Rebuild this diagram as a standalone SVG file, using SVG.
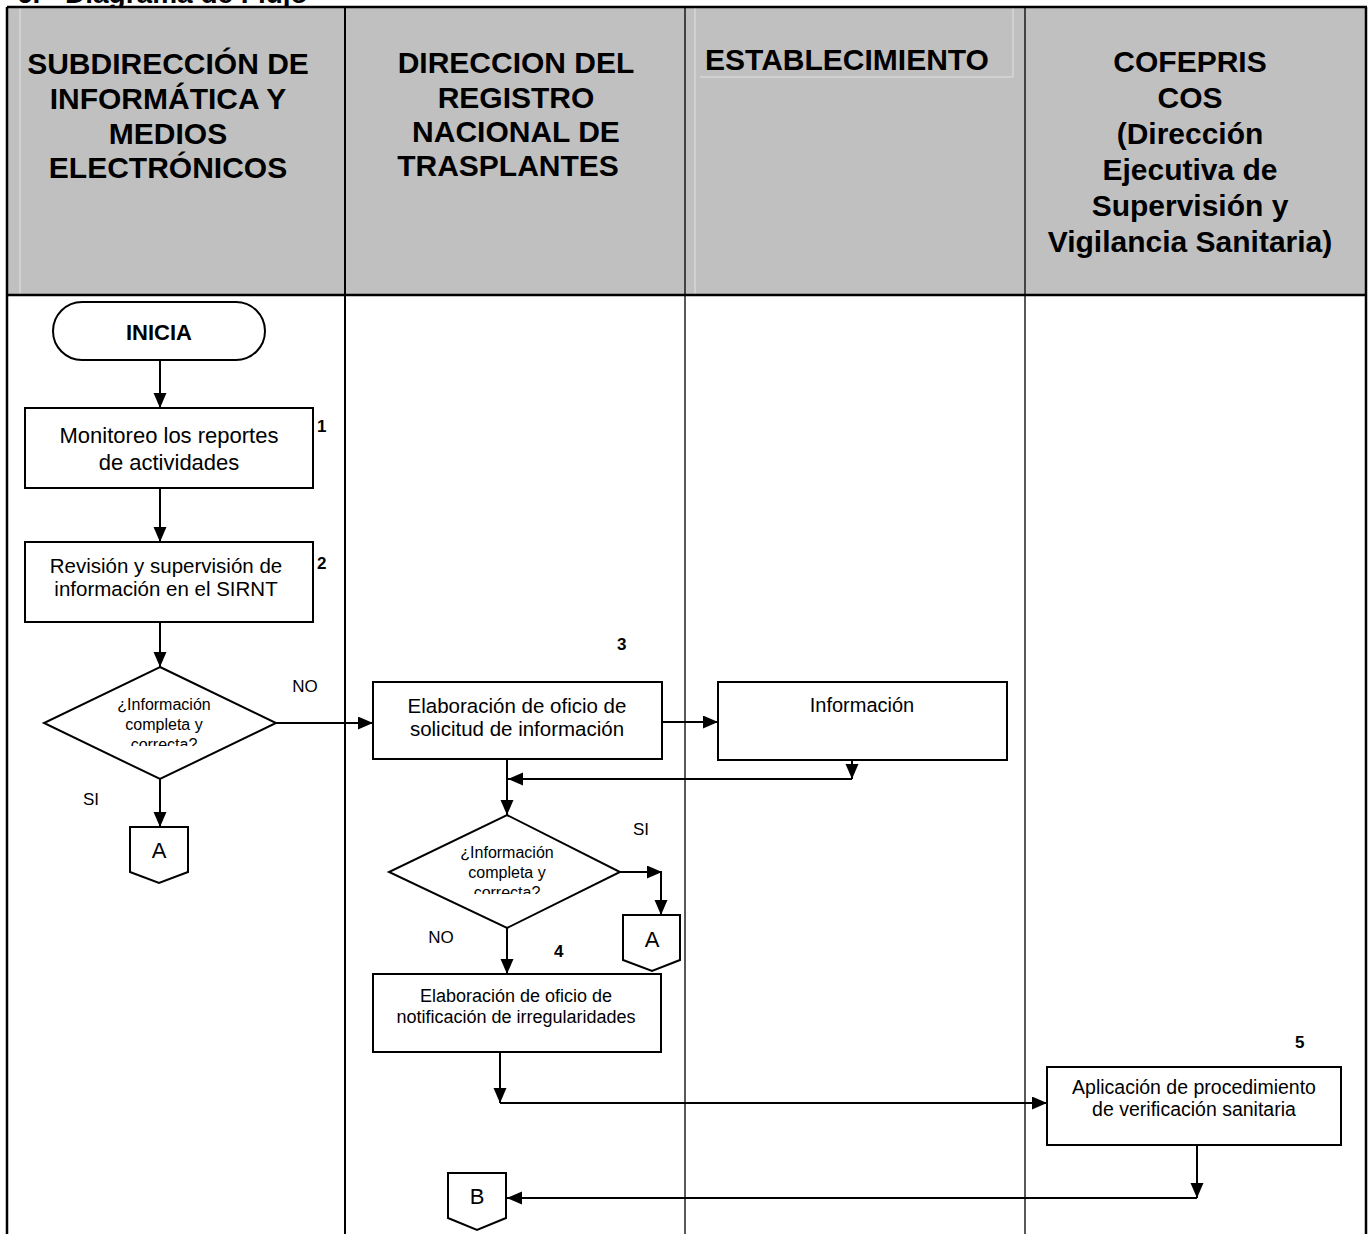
<svg xmlns="http://www.w3.org/2000/svg" width="1371" height="1234" viewBox="0 0 1371 1234">
  <defs>
    <style>
      text { font-family: "Liberation Sans", Arial, sans-serif; fill: #000; }
      .hdr { font-weight: bold; font-size: 30px; text-anchor: middle; }
      .title { font-weight: bold; font-size: 28px; }
      .box { fill: #fff; stroke: #000; stroke-width: 2; }
      .lbl { text-anchor: middle; }
      .num { font-weight: bold; font-size: 17px; }
      .yn { font-size: 17px; text-anchor: middle; }
      .conn { fill: none; stroke: #000; stroke-width: 2; }
      .grid { stroke: #000; fill: none; }
      .faint { stroke: #e2e2e2; stroke-width: 1; fill: none; }
    </style>
    <marker id="arrow" markerUnits="userSpaceOnUse" markerWidth="16" markerHeight="14" refX="15" refY="6.5" orient="auto">
      <path d="M0,0 L15,6.5 L0,13 Z" fill="#000"/>
    </marker>
    <clipPath id="clipD1"><rect x="60" y="680" width="210" height="66"/></clipPath>
    <clipPath id="clipD2"><rect x="405" y="828" width="210" height="66"/></clipPath>
  </defs>

  <!-- page title (runs off the top edge) -->
  <text class="title" y="3"><tspan x="17">6.</tspan><tspan x="65">Diagrama de Flujo</tspan></text>

  <!-- swimlane table -->
  <g id="lanes">
    <rect x="7" y="7" width="1360" height="288" fill="#c0c0c0"/>
    <path class="faint" d="M20,8 V294 M695,8 V294 M700,77 H1013 V8"/>
    <path class="grid" stroke-width="2.5" d="M7,7 H1367 M7,295 H1367 M7,7 V1234 M1366,7 V1234"/>
    <path class="grid" stroke-width="2" d="M345,7 V1234"/>
    <path class="grid" stroke-width="1.3" d="M685,7 V1234 M1025,7 V1234"/>

    <text class="hdr" x="168"><tspan x="168" y="74">SUBDIRECCIÓN DE</tspan><tspan x="168" y="109">INFORMÁTICA Y</tspan><tspan x="168" y="144">MEDIOS</tspan><tspan x="168" y="178">ELECTRÓNICOS</tspan></text>
    <text class="hdr" x="516"><tspan x="516" y="73">DIRECCION DEL</tspan><tspan x="516" y="108">REGISTRO</tspan><tspan x="516" y="142">NACIONAL DE</tspan><tspan x="508" y="176">TRASPLANTES</tspan></text>
    <text class="hdr" x="847" y="70">ESTABLECIMIENTO</text>
    <text class="hdr" x="1190"><tspan x="1190" y="72">COFEPRIS</tspan><tspan x="1190" y="108">COS</tspan><tspan x="1190" y="144">(Dirección</tspan><tspan x="1190" y="180">Ejecutiva de</tspan><tspan x="1190" y="216">Supervisión y</tspan><tspan x="1190" y="252">Vigilancia Sanitaria)</tspan></text>
  </g>

  <!-- connectors -->
  <g id="connectors" class="conn">
    <path d="M160,360 V408" marker-end="url(#arrow)"/>
    <path d="M160,488 V542" marker-end="url(#arrow)"/>
    <path d="M160,622 V667" marker-end="url(#arrow)"/>
    <path d="M276,723 H373" marker-end="url(#arrow)"/>
    <path d="M160,779 V827" marker-end="url(#arrow)"/>
    <path d="M662,722 H718" marker-end="url(#arrow)"/>
    <path d="M852,760 V779" marker-end="url(#arrow)"/>
    <path d="M852,779 H508" marker-end="url(#arrow)"/>
    <path d="M507,759 V815" marker-end="url(#arrow)"/>
    <path d="M620,872 H662" marker-end="url(#arrow)"/>
    <path d="M661,872 V915" marker-end="url(#arrow)"/>
    <path d="M507,928 V974" marker-end="url(#arrow)"/>
    <path d="M500,1052 V1103" marker-end="url(#arrow)"/>
    <path d="M500,1103 H1047" marker-end="url(#arrow)"/>
    <path d="M1197,1145 V1198" marker-end="url(#arrow)"/>
    <path d="M1197,1198 H507" marker-end="url(#arrow)"/>
  </g>

  <!-- start -->
  <g id="inicia">
    <rect class="box" x="53" y="302" width="212" height="58" rx="29"/>
    <text class="lbl" x="159" y="340" font-size="22" font-weight="bold">INICIA</text>
  </g>

  <!-- step 1 -->
  <g id="paso1">
    <rect class="box" x="25" y="408" width="288" height="80"/>
    <text class="lbl" font-size="22"><tspan x="169" y="443">Monitoreo los reportes</tspan><tspan x="169" y="470">de actividades</tspan></text>
    <text class="num" x="317" y="432">1</text>
  </g>

  <!-- step 2 -->
  <g id="paso2">
    <rect class="box" x="25" y="542" width="288" height="80"/>
    <text class="lbl" font-size="20.5"><tspan x="166" y="573">Revisión y supervisión de</tspan><tspan x="166" y="596">información en el SIRNT</tspan></text>
    <text class="num" x="317" y="569">2</text>
  </g>

  <!-- decision 1 -->
  <g id="decision1">
    <path class="box" d="M160,667 L276,723 L160,779 L44,723 Z"/>
    <text class="lbl" font-size="16" clip-path="url(#clipD1)"><tspan x="164" y="710">¿Información</tspan><tspan x="164" y="730">completa y</tspan><tspan x="164" y="750">correcta?</tspan></text>
    <text class="yn" x="305" y="692">NO</text>
    <text class="yn" x="91" y="805">SI</text>
  </g>

  <!-- off-page connector A (lane 1) -->
  <g id="conectorA1">
    <path class="box" d="M130,827 H188 V872 L159,883 L130,872 Z"/>
    <text class="lbl" x="159" y="858" font-size="22">A</text>
  </g>

  <!-- step 3 -->
  <g id="paso3">
    <rect class="box" x="373" y="682" width="289" height="77"/>
    <text class="lbl" font-size="20.5"><tspan x="517" y="713">Elaboración de oficio de</tspan><tspan x="517" y="736">solicitud de información</tspan></text>
    <text class="num" x="617" y="650">3</text>
  </g>

  <!-- establishment response -->
  <g id="informacion">
    <rect class="box" x="718" y="682" width="289" height="78"/>
    <text class="lbl" x="862" y="712" font-size="20">Información</text>
  </g>

  <!-- decision 2 -->
  <g id="decision2">
    <path class="box" d="M507,815 L620,872 L507,928 L389,872 Z"/>
    <text class="lbl" font-size="16" clip-path="url(#clipD2)"><tspan x="507" y="858">¿Información</tspan><tspan x="507" y="878">completa y</tspan><tspan x="507" y="898">correcta?</tspan></text>
    <text class="yn" x="641" y="835">SI</text>
    <text class="yn" x="441" y="943">NO</text>
  </g>

  <!-- off-page connector A (lane 2) -->
  <g id="conectorA2">
    <path class="box" d="M623,915 H680 V960 L652,971 L623,960 Z"/>
    <text class="lbl" x="652" y="947" font-size="22">A</text>
  </g>

  <!-- step 4 -->
  <g id="paso4">
    <rect class="box" x="373" y="974" width="288" height="78"/>
    <text class="lbl" font-size="18"><tspan x="516" y="1002">Elaboración de oficio de</tspan><tspan x="516" y="1023">notificación de irregularidades</tspan></text>
    <text class="num" x="554" y="957">4</text>
  </g>

  <!-- step 5 -->
  <g id="paso5">
    <rect class="box" x="1047" y="1067" width="294" height="78"/>
    <text class="lbl" font-size="19.5"><tspan x="1194" y="1094">Aplicación de procedimiento</tspan><tspan x="1194" y="1116">de verificación sanitaria</tspan></text>
    <text class="num" x="1295" y="1048">5</text>
  </g>

  <!-- off-page connector B -->
  <g id="conectorB">
    <path class="box" d="M448,1173 H506 V1218 L477,1230 L448,1218 Z"/>
    <text class="lbl" x="477" y="1204" font-size="22">B</text>
  </g>
</svg>
